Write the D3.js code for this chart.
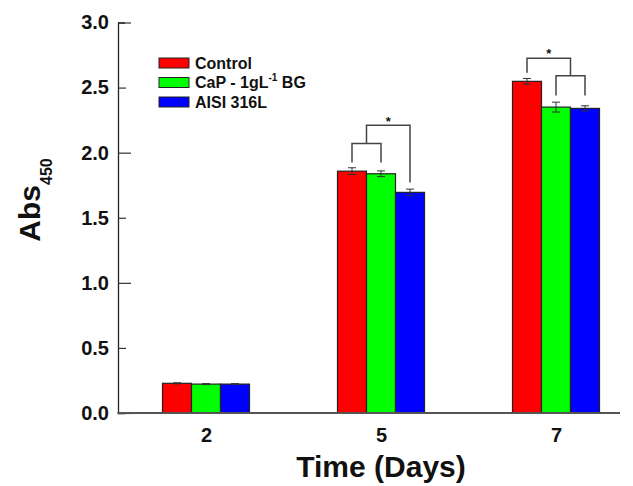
<!DOCTYPE html>
<html>
<head>
<meta charset="utf-8">
<script src="https://cdn.jsdelivr.net/npm/d3@7"></script>
<style>
  body { margin: 0; background: #fff; }
  svg { display: block; font-family: "Liberation Sans", Arial, sans-serif; font-weight: bold; }
</style>
</head>
<body>
<svg id="chart" width="633" height="486"></svg>
<script>
// days on the x axis
const categories = ['2', '5', '7'];
const seriesNames = ['Control', 'CaP - 1gL-1 BG', 'AISI 316L'];
const seriesColors = ['#ff0000', '#00ff00', '#0000ff'];

// Abs450 means and error (SD) per day
const controlValues = [0.228, 1.858, 2.548];
const capValues = [0.222, 1.838, 2.350];
const aisiValues = [0.222, 1.695, 2.340];
const controlErrors = [0.004, 0.026, 0.022];
const capErrors = [0.004, 0.022, 0.038];
const aisiErrors = [0.004, 0.025, 0.020];

const yTicks = [0, 0.5, 1.0, 1.5, 2.0, 2.5, 3.0];

// significance brackets: [series index a, series index b], heights in Abs units
const sigBrackets = [
  { day: '5', from: 0, to: 1, top: 2.07, footA: 1.925, footB: 1.925 },
  { day: '5', from: 0.5, to: 2, top: 2.21, footA: 2.07, footB: 1.77, star: 2.27 },
  { day: '7', from: 1, to: 2, top: 2.59, footA: 2.44, footB: 2.44 },
  { day: '7', from: 0, to: 1.5, top: 2.725, footA: 2.613, footB: 2.59, star: 2.79 }
];

const values = [controlValues, capValues, aisiValues];
const errors = [controlErrors, capErrors, aisiErrors];

const svg = d3.select('#chart');
const plot = { left: 118, right: 620, top: 22.5, bottom: 413 };

const y = d3.scaleLinear().domain([0, 3]).range([plot.bottom, plot.top]);
const x = d3.scalePoint().domain(categories).range([206, 556]);
const xSub = d3.scaleBand().domain(d3.range(seriesNames.length)).range([-43.5, 43.5]);
const subCenter = i => xSub.step() * i + xSub.step() / 2 - 43.5;

const rows = [];
categories.forEach((c, ci) => {
  seriesNames.forEach((s, si) => {
    rows.push({ day: c, si, value: values[si][ci], err: errors[si][ci] });
  });
});

// bars
svg.append('g').selectAll('rect')
  .data(rows)
  .join('rect')
  .attr('x', d => x(d.day) + xSub(d.si))
  .attr('y', d => y(d.value))
  .attr('width', xSub.bandwidth())
  .attr('height', d => y(0) - y(d.value))
  .attr('fill', d => seriesColors[d.si])
  .attr('stroke', '#222')
  .attr('stroke-width', 1.2);

// error bars
const eb = svg.append('g').attr('stroke', '#333').attr('stroke-width', 1);
rows.forEach(d => {
  const cx = x(d.day) + subCenter(d.si);
  eb.append('line').attr('x1', cx).attr('x2', cx)
    .attr('y1', y(d.value + d.err)).attr('y2', y(d.value - d.err));
  [d.value + d.err, d.value - d.err].forEach(v => {
    eb.append('line').attr('x1', cx - 4).attr('x2', cx + 4)
      .attr('y1', y(v)).attr('y2', y(v));
  });
});

// significance brackets
const br = svg.append('g');
sigBrackets.forEach(b => {
  const xa = x(b.day) + subCenter(b.from);
  const xb = x(b.day) + subCenter(b.to);
  br.append('path')
    .attr('d', `M${xa},${y(b.footA)}V${y(b.top)}H${xb}V${y(b.footB)}`)
    .attr('fill', 'none')
    .attr('stroke', '#444')
    .attr('stroke-width', 1.5);
  if (b.star !== undefined) {
    br.append('text')
      .attr('x', (xa + xb) / 2)
      .attr('y', y(b.star) + 8)
      .attr('text-anchor', 'middle')
      .attr('font-size', 13)
      .attr('fill', '#111')
      .text('*');
  }
});

// y axis, ticks pointing in, long at whole numbers
const yAxis = svg.append('g')
  .attr('transform', `translate(${plot.left},0)`)
  .call(d3.axisLeft(y).tickValues(yTicks).tickFormat(d3.format('.1f')).tickSize(-7).tickPadding(9));
yAxis.select('.domain').attr('stroke', '#222').attr('stroke-width', 1.3);
yAxis.selectAll('.tick line')
  .attr('x2', d => Number.isInteger(d) ? 13 : 8)
  .attr('stroke', '#333').attr('stroke-width', 1.2);
yAxis.selectAll('.tick text')
  .attr('font-size', 20).attr('font-weight', 'bold')
  .attr('font-family', '"Liberation Sans", Arial, sans-serif').attr('fill', '#111');

// x axis
const xAxis = svg.append('g')
  .attr('transform', `translate(0,${plot.bottom})`)
  .call(d3.axisBottom(x).tickSize(0).tickPadding(15));
xAxis.select('.domain').remove();
xAxis.append('line')
  .attr('x1', plot.left - 0.6).attr('x2', plot.right)
  .attr('stroke', '#555').attr('stroke-width', 2);
xAxis.selectAll('.tick text')
  .attr('font-size', 20).attr('font-weight', 'bold')
  .attr('font-family', '"Liberation Sans", Arial, sans-serif').attr('fill', '#111');

// axis titles
svg.append('text')
  .attr('x', 381).attr('y', 477)
  .attr('text-anchor', 'middle')
  .attr('font-size', 30)
  .attr('fill', '#111')
  .text('Time (Days)');

const yTitle = svg.append('text')
  .attr('transform', 'translate(39.5,200) rotate(-90)')
  .attr('text-anchor', 'middle')
  .attr('font-size', 30)
  .attr('fill', '#111');
yTitle.append('tspan').text('Abs');
yTitle.append('tspan').attr('font-size', 16).attr('dy', 12).text('450');

// legend
const legend = svg.append('g').attr('transform', 'translate(159,58)');
seriesNames.forEach((name, i) => {
  const row = legend.append('g').attr('transform', `translate(0,${i * 19.5})`);
  row.append('rect')
    .attr('width', 30).attr('height', 10)
    .attr('fill', seriesColors[i])
    .attr('stroke', '#222').attr('stroke-width', 1);
  const t = row.append('text')
    .attr('x', 36).attr('y', 10.5)
    .attr('font-size', 16)
    .attr('fill', '#111');
  if (name.indexOf('-1') > 0) {
    t.append('tspan').text('CaP - 1gL');
    t.append('tspan').attr('font-size', 10).attr('dy', -7).text('-1');
    t.append('tspan').attr('dy', 7).text(' BG');
  } else {
    t.text(name);
  }
});
</script>
</body>
</html>
